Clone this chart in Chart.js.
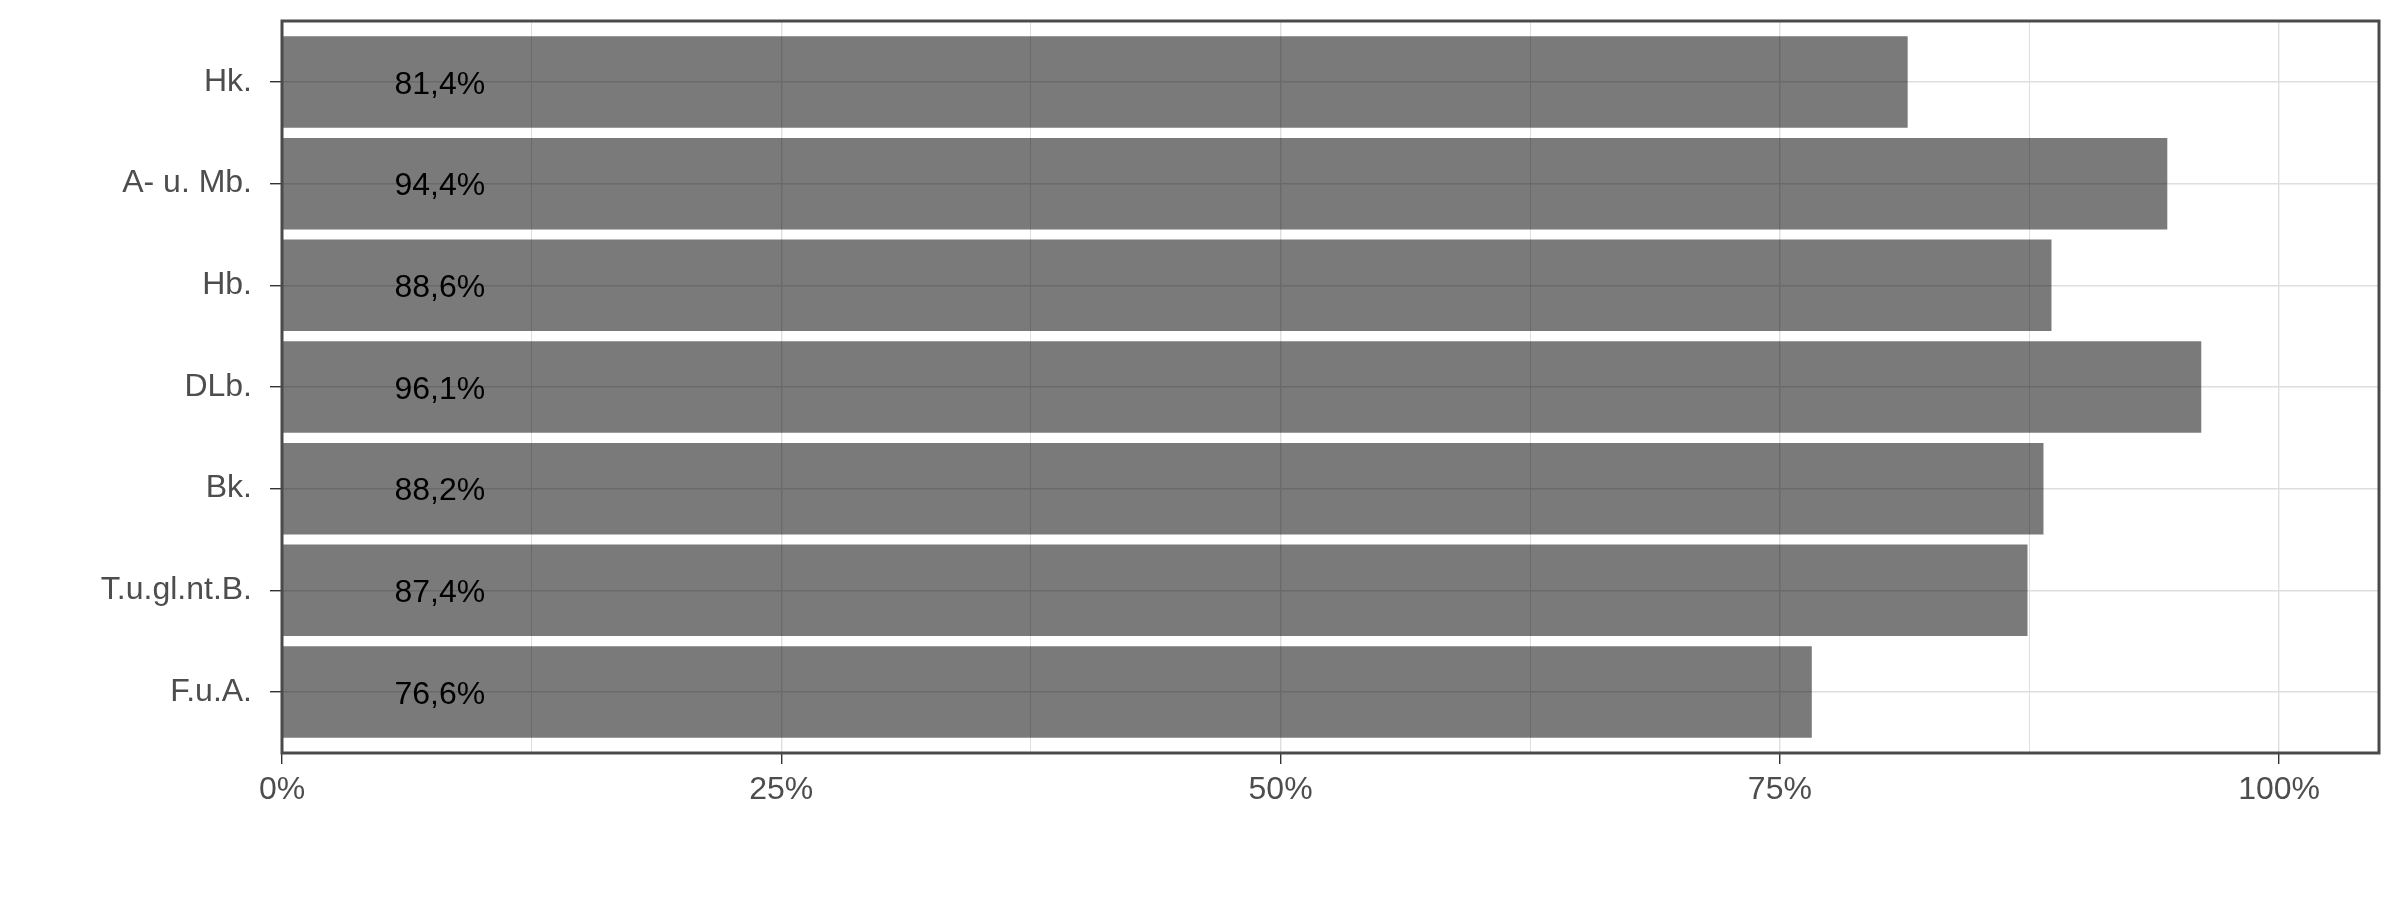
<!DOCTYPE html>
<html>
<head>
<meta charset="utf-8">
<script src="https://cdn.jsdelivr.net/npm/chart.js@4"></script>
<style>
html,body{margin:0;padding:0;background:#fff;}
#wrap{width:2400px;height:900px;}
</style>
</head>
<body>
<div id="wrap"><canvas id="c" width="2400" height="900"></canvas></div>
<script>
const categories = ["Hk.", "A- u. Mb.", "Hb.", "DLb.", "Bk.", "T.u.gl.nt.B.", "F.u.A."];
const values = [81.4, 94.4, 88.6, 96.1, 88.2, 87.4, 76.6];
const xTickValues = [0, 25, 50, 75, 100];
const labelPosition = 7.9;

const fmt = v => v.toFixed(1).replace('.', ',') + '%';
const points = values.map((v, i) => ({x: v, y: i}));

const frame = {
  id: 'frame',
  afterDatasetsDraw(chart) {
    const {ctx, chartArea: a} = chart;
    const meta = chart.getDatasetMeta(0);
    const xs = chart.scales.x;
    ctx.save();
    ctx.fillStyle = '#000';
    ctx.font = '32px "Liberation Sans", Arial, sans-serif';
    ctx.textAlign = 'center';
    ctx.textBaseline = 'middle';
    meta.data.forEach((bar, i) => {
      ctx.fillText(fmt(values[i]), xs.getPixelForValue(labelPosition), bar.y + 3);
    });
    ctx.strokeStyle = '#4a4a4a';
    ctx.lineWidth = 3;
    ctx.strokeRect(a.left, a.top, a.right - a.left, a.bottom - a.top);
    ctx.restore();
  }
};

new Chart(document.getElementById('c'), {
  type: 'bar',
  data: {
    datasets: [{
      data: points,
      backgroundColor: 'rgba(0,0,0,0.52)',
      borderWidth: 0,
      barPercentage: 0.9,
      categoryPercentage: 1.0
    }]
  },
  options: {
    indexAxis: 'y',
    responsive: false,
    animation: false,
    devicePixelRatio: 1,
    layout: {padding: {left: 0, right: 21, top: 21, bottom: 0}},
    plugins: {legend: {display: false}, tooltip: {enabled: false}},
    scales: {
      x: {
        type: 'linear',
        min: 0,
        max: 105,
        offset: false,
        border: {display: false},
        grid: {
          offset: false,
          color: '#dedede',
          lineWidth: c => (c.tick && c.tick.value % 25 === 0) ? 1.4 : 1,
          tickColor: c => (c.tick && c.tick.value % 25 === 0) ? '#333333' : 'rgba(0,0,0,0)',
          tickWidth: 1.4,
          tickLength: 11
        },
        ticks: {
          stepSize: 12.5,
          includeBounds: false,
          autoSkip: false,
          maxRotation: 0,
          padding: 7,
          color: '#4d4d4d',
          font: {family: '"Liberation Sans", Arial, sans-serif', size: 32},
          callback: v => xTickValues.includes(v) ? v + '%' : ''
        },
        afterFit: s => { s.height = 147; s.paddingLeft = 0; s.paddingRight = 0; }
      },
      y: {
        type: 'linear',
        min: -0.6,
        max: 6.6,
        reverse: true,
        offset: false,
        border: {display: false},
        grid: {
          offset: false,
          color: '#dedede',
          lineWidth: 1.4,
          tickColor: '#333333',
          tickWidth: 1.4,
          tickLength: 12
        },
        ticks: {
          stepSize: 1,
          includeBounds: false,
          autoSkip: false,
          padding: 18,
          color: '#4d4d4d',
          font: {family: '"Liberation Sans", Arial, sans-serif', size: 32},
          callback: v => categories[v] !== undefined ? categories[v] : ''
        },
        afterFit: s => { s.width = 282; s.paddingTop = 0; s.paddingBottom = 0; }
      }
    }
  },
  plugins: [frame]
});
</script>
</body>
</html>
